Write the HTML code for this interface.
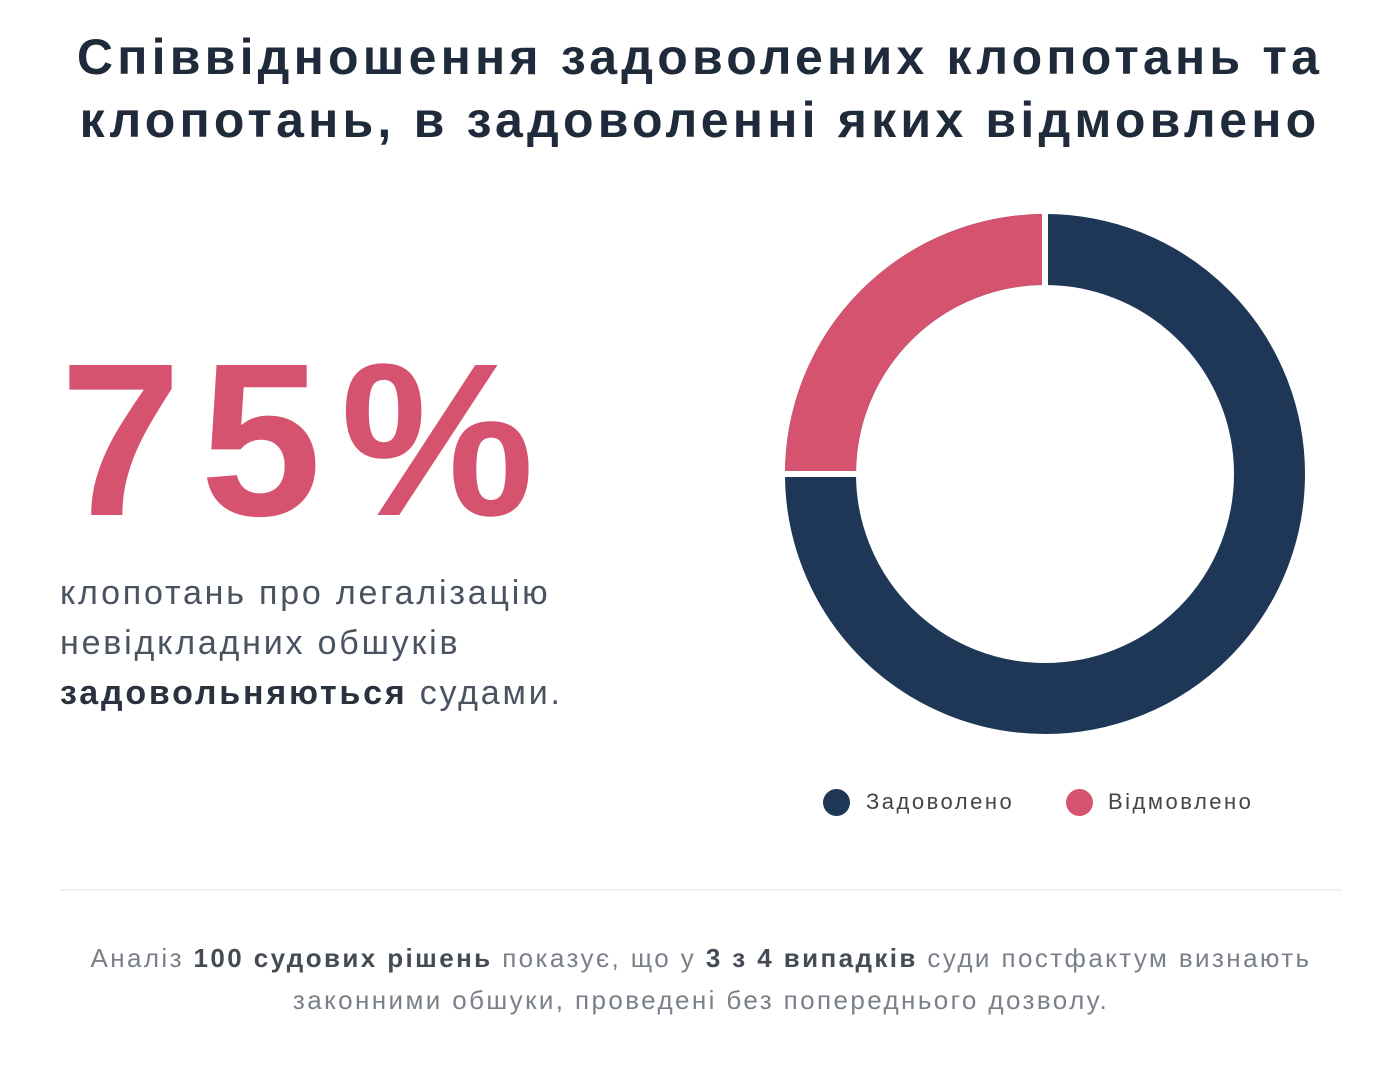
<!DOCTYPE html>
<html><head><meta charset="utf-8"><style>
html,body{margin:0;padding:0;background:#fff;}
body{width:1382px;height:1075px;position:relative;overflow:hidden;font-family:"Liberation Sans","DejaVu Sans",sans-serif;}
.t{position:absolute;white-space:nowrap;}
#title{left:0;width:1400px;top:26px;text-align:center;font-weight:bold;font-size:50px;line-height:63px;color:#1f2b3b;letter-spacing:4.2px;}
#big{left:60px;top:321px;font-weight:bold;font-size:218px;line-height:240px;color:#d65370;letter-spacing:19px;}
#desc{left:60px;top:568px;font-size:34px;line-height:50px;color:#4a5361;letter-spacing:2.8px;}
#desc b{color:#2a3240;}
.leg{font-size:22px;color:#444;top:789px;letter-spacing:2.5px;}
.dot{position:absolute;width:27px;height:27px;border-radius:50%;top:789px;}
#hr{position:absolute;left:60px;top:889px;width:1282px;height:2px;background:#eef0f2;}
#foot{left:0;width:1402px;text-align:center;top:937px;font-size:26px;line-height:42px;color:#7a8089;letter-spacing:2.4px;}
#foot b{color:#454b55;}
</style></head><body>
<div class="t" id="title">Співвідношення задоволених клопотань та<br>клопотань, в задоволенні яких відмовлено</div>
<div class="t" id="big">75%</div>
<div class="t" id="desc">клопотань про легалізацію<br>невідкладних обшуків<br><b>задовольняються</b> судами.</div>
<svg style="position:absolute;left:0;top:0" width="1382" height="1075">
<g transform="translate(1045,474)">
<circle r="224.5" fill="none" stroke="#1e3757" stroke-width="71"/>
<path d="M -224.5 0 A 224.5 224.5 0 0 1 0 -224.5" fill="none" stroke="#d65370" stroke-width="71"/>
<rect x="-3" y="-262" width="6" height="76" fill="#fff"/>
<rect x="-262" y="-3" width="76" height="6" fill="#fff"/>
</g>
</svg>
<div class="dot" style="left:823px;background:#1e3757"></div>
<div class="t leg" style="left:866px">Задоволено</div>
<div class="dot" style="left:1066px;background:#d65370"></div>
<div class="t leg" style="left:1108px">Відмовлено</div>
<div id="hr"></div>
<div class="t" id="foot">Аналіз <b>100 судових рішень</b> показує, що у <b>3 з 4 випадків</b> суди постфактум визнають<br>законними обшуки, проведені без попереднього дозволу.</div>
</body></html>
